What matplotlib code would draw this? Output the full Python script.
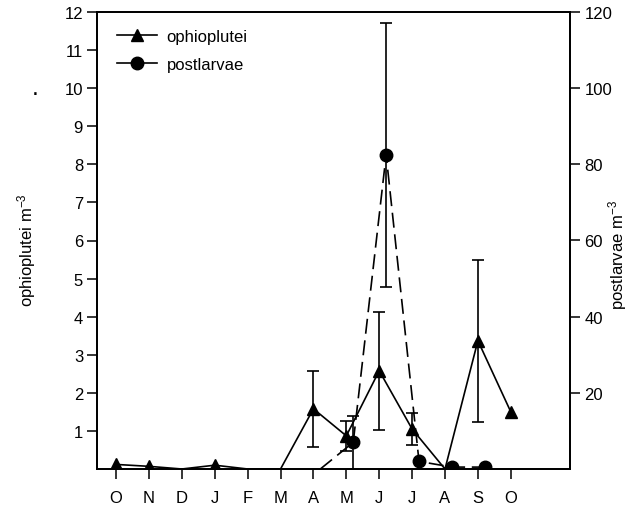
import numpy as np
import matplotlib
matplotlib.use("Agg")
import matplotlib.pyplot as plt
from matplotlib.lines import Line2D

plt.rcParams['font.family'] = ['Liberation Sans', 'DejaVu Sans']
plt.rcParams['mathtext.default'] = 'regular'

months = ['O', 'N', 'D', 'J', 'F', 'M', 'A', 'M', 'J', 'J', 'A', 'S', 'O']
ophio = [0.12, 0.07, 0.0, 0.1, 0.0, 0.0, 1.58, 0.87, 2.58, 1.05, 0.0, 3.37, 1.5]
ophio_err = [0, 0, 0, 0, 0, 0, 1.0, 0.4, 1.55, 0.42, 0, 2.13, 0]
post = [np.nan, np.nan, np.nan, np.nan, np.nan, np.nan, 0.0, 7.0, 82.5, 2.0, 0.5, 0.5, np.nan]
post_err = [0, 0, 0, 0, 0, 0, 0, 7.0, 34.6, 0, 0, 0, 0]

x = np.arange(len(months))
ophio = np.array(ophio)
post = np.array(post)
ophio_err = np.array(ophio_err)
post_err = np.array(post_err)
xp = x + 0.21

fig = plt.figure(figsize=(6.34, 5.10), dpi=100)
ax = fig.add_axes([97/634, 1-470/510, (570-97)/634, (470-13)/510])
ax2 = ax.twinx()

lw = 1.2
fs = 12
# ophioplutei
ax.plot(x, ophio, color='black', lw=lw, zorder=3)
m = ophio > 0
ax.plot(x[m], ophio[m], ls='none', marker='^', ms=8.5, color='black', zorder=4)
e = ophio_err > 0
ax.errorbar(x[e], ophio[e], yerr=ophio_err[e], fmt='none', ecolor='black',
            elinewidth=lw, capsize=4.5, capthick=lw, zorder=3)

# postlarvae
ax2.plot(xp, post, color='black', lw=lw, ls=(0, (9, 4)), zorder=3)
mp = np.nan_to_num(post) > 0
ax2.plot(xp[mp], post[mp], ls='none', marker='o', ms=9, color='black', zorder=4)
ep = post_err > 0
ax2.errorbar(xp[ep], post[ep], yerr=post_err[ep], fmt='none', ecolor='black',
             elinewidth=lw, capsize=4.5, capthick=lw, zorder=3)

ax.set_xlim(-0.58, 13.8)
ax.set_ylim(0, 12)
ax2.set_ylim(0, 120)
ax.set_xticks(x)
ax.set_xticklabels(months)
ax.set_yticks(np.arange(1, 13))
ax2.set_yticks(np.arange(20, 121, 20))

for a in (ax, ax2):
    a.tick_params(direction='out', length=7, width=1.1, labelsize=fs, colors='black')
    for s in a.spines.values():
        s.set_linewidth(1.3)
ax.tick_params(axis='x', pad=8)
ax.tick_params(axis='y', pad=3)

ax.set_ylabel('ophioplutei m$^{-3}$', fontsize=fs)
ax2.set_ylabel('postlarvae m$^{-3}$', fontsize=fs, rotation=90)
ax.yaxis.set_label_coords((38-97)/473, 0.48)
ax2.yaxis.set_label_coords((606-97)/473, 0.47)

h1 = Line2D([], [], color='black', lw=lw, marker='^', ms=8)
h2 = Line2D([], [], color='black', lw=lw, marker='o', ms=9)
ax.legend([h1, h2], ['ophioplutei', 'postlarvae'], loc='upper left',
          bbox_to_anchor=(0.01, 0.995), frameon=False, fontsize=fs,
          handlelength=2.4, labelspacing=0.75, handletextpad=0.6)

fig.text(35/634, 1-100/510, '.', fontsize=18, ha='center', va='bottom')

fig.savefig('out.png', dpi=100)
